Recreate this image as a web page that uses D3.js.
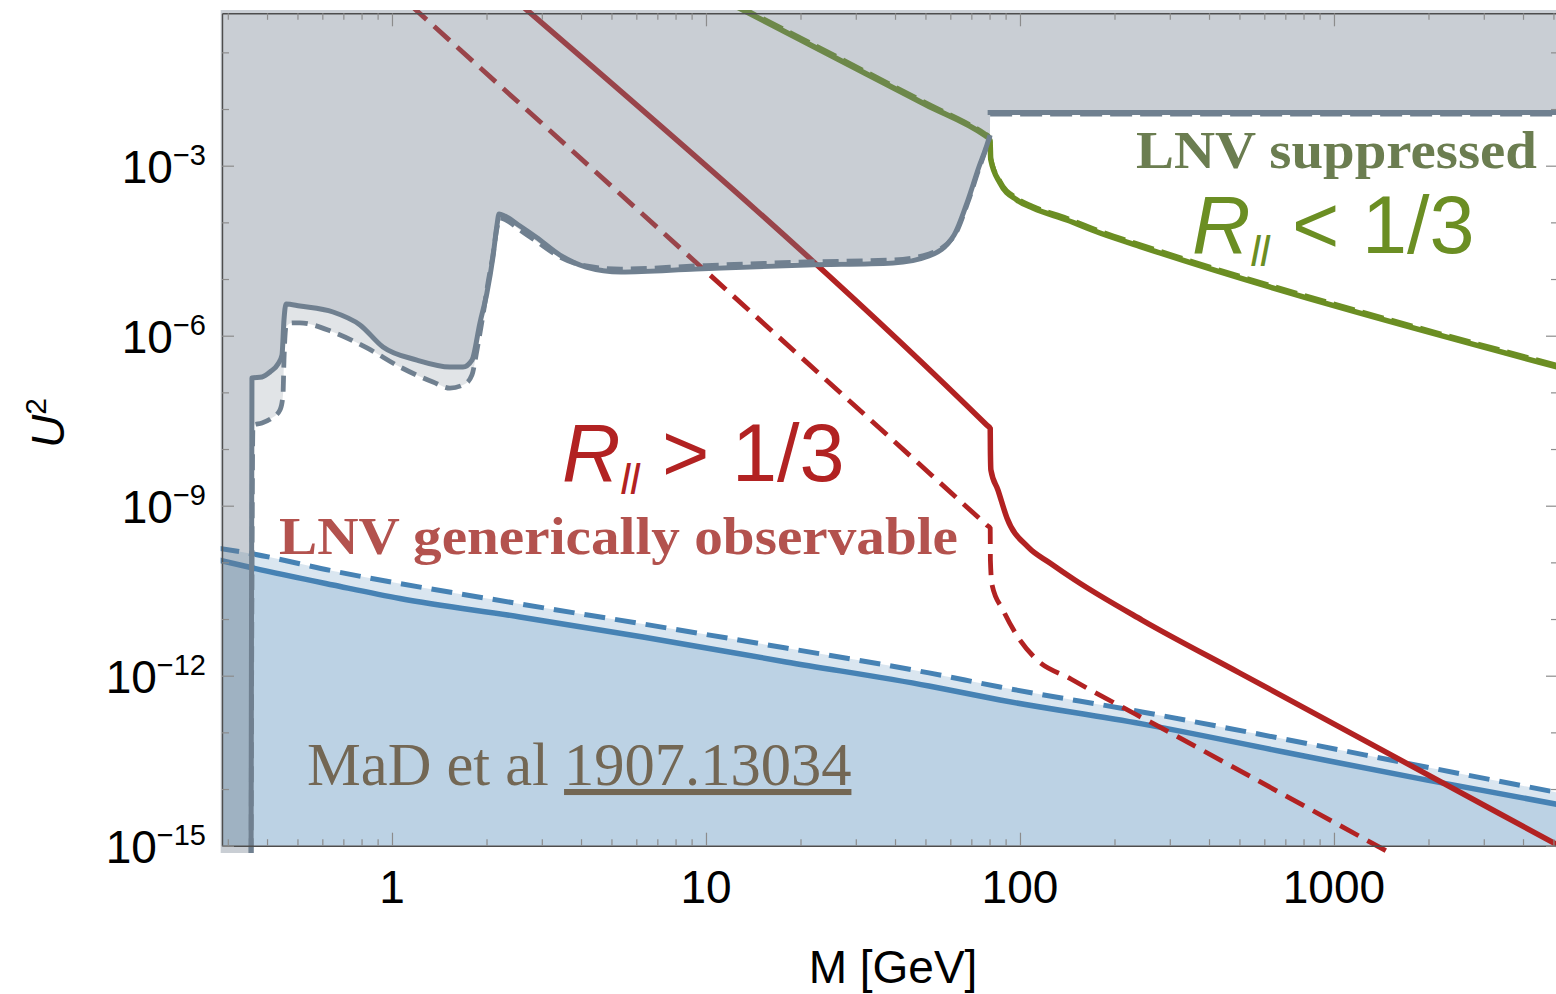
<!DOCTYPE html>
<html>
<head>
<meta charset="utf-8">
<script src="https://cdn.jsdelivr.net/npm/d3@7"></script>
<style>
  html, body { margin: 0; padding: 0; background: #ffffff; }
  svg { display: block; }
</style>
</head>
<body>
<svg id="chart" width="1556" height="994"></svg>
<script>
// ---------- data: heavy neutral lepton mass M [GeV] vs mixing U^2 ----------

// Excluded region, lower boundary (solid) and its dashed variant
const graySolidEdge = [
  [0.3556, 1e-16], [0.3581, 1.79e-7], [0.3855, 1.87e-7], [0.4088, 2.29e-7], [0.4335, 3.17e-7],
  [0.4464, 4.57e-7], [0.4529, 1.89e-6], [0.4596, 3.63e-6], [0.509, 3.34e-6], [0.649, 2.62e-6],
  [0.791, 1.55e-6], [0.936, 6.32e-7], [1.201, 3.72e-7], [1.530, 2.81e-7], [1.683, 2.81e-7],
  [1.798, 3.72e-7], [1.906, 1.68e-6], [2.006, 5.68e-6], [2.097, 2.45e-5], [2.16, 9.0e-5],
  [2.192, 1.41e-4], [2.29, 1.29e-4], [2.556, 8.63e-5], [2.874, 5.52e-5], [3.428, 2.65e-5],
  [4.148, 1.63e-5], [5.361, 1.33e-5], [9.29, 1.50e-5], [20.97, 1.77e-5], [39.4, 1.92e-5],
  [51.3, 2.55e-5], [61.7, 5.98e-5], [68.3, 2.48e-4], [74.0, 9.49e-4], [77.9, 2.05e-3],
  [80.3, 3.48e-3]
];
const graySolidTop = [[80.35, 8.69e-3], [5400, 8.69e-3]];

const grayDashedEdge = [
  [0.3556, 1e-16], [0.3608, 2.65e-8], [0.3855, 2.88e-8], [0.4148, 3.53e-8], [0.4398, 4.89e-8],
  [0.4497, 9.0e-8], [0.4529, 3.72e-7], [0.4596, 1.43e-6], [0.4804, 1.68e-6], [0.509, 1.68e-6],
  [0.649, 1.16e-6], [0.8324, 6.07e-7], [1.060, 2.81e-7], [1.351, 1.52e-7], [1.530, 1.19e-7],
  [1.708, 1.41e-7], [1.798, 2.03e-7], [1.865, 5.6e-7], [1.949, 2.32e-6], [2.022, 8.51e-6],
  [2.097, 2.65e-5], [2.16, 7.96e-5], [2.208, 1.19e-4], [2.307, 1.10e-4], [2.556, 7.33e-5],
  [2.874, 4.69e-5], [3.428, 2.45e-5], [4.148, 1.70e-5], [5.361, 1.50e-5], [9.29, 1.70e-5],
  [20.97, 2.0e-5], [39.4, 2.17e-5], [51.3, 2.77e-5], [61.7, 5.74e-5], [68.3, 2.29e-4],
  [74.0, 8.75e-4], [77.9, 1.97e-3], [80.3, 3.34e-3]
];
const grayDashedTop = [[80.35, 8.17e-3], [5400, 8.17e-3]];

// R_ll = 1/3 contours
const redSolid = [
  [2.6, 0.657], [78.5, 2.62e-8], [80.4, 2.3e-8], [80.5, 9.6e-9], [80.8, 4.27e-9], [85.1, 1.89e-9],
  [90.9, 6.07e-10], [106, 1.87e-10], [124.6, 9.75e-11], [149.6, 4.89e-11], [244.7, 9.6e-12],
  [500, 1.125e-12], [5200, 1.0e-15]
];
const redDashed = [
  [1.15, 0.67], [78.5, 4.51e-10], [80.4, 4.0e-10], [80.5, 1.1e-10], [81.5, 3.99e-11], [88.3, 1.44e-11],
  [98.5, 4.82e-12], [111.6, 2.06e-12], [145.3, 8.75e-13], [300, 9.94e-14], [1507, 7.45e-16]
];

const greenSolid = [
  [12.5, 0.64], [50, 1.2e-2], [77.5, 3.4e-3], [79.3, 3.1e-3], [80.3, 2.7e-3], [80.7, 1.3e-3],
  [86.4, 4.95e-4], [97.8, 2.48e-4], [110, 1.79e-4], [141, 1.10e-4], [179.8, 6.49e-5],
  [244.7, 3.67e-5], [5200, 2.75e-7]
];
const greenDashed = [
  [12.5, 0.69], [50, 1.3e-2], [77.5, 3.65e-3], [79.3, 3.35e-3], [80.3, 2.9e-3], [80.7, 1.4e-3],
  [86.4, 5.35e-4], [97.8, 2.68e-4], [110, 1.93e-4], [141, 1.19e-4], [179.8, 7.0e-5],
  [244.7, 3.96e-5], [5200, 2.97e-7]
];

// Seesaw band
const blueSolid = [
  [0.28, 1.1e-10], [0.3608, 7.96e-11], [0.649, 3.99e-11], [1.060, 2.3e-11], [2.556, 1.09e-11],
  [6.30, 4.82e-12], [17.98, 1.75e-12], [51.3, 6.59e-13], [86.4, 3.73e-13], [244.7, 1.41e-13],
  [693, 4.51e-14], [1963, 1.45e-14], [5200, 5.3e-15]
];
const blueDashed = [
  [0.28, 1.78e-10], [0.3608, 1.41e-10], [0.649, 7.05e-11], [2.556, 1.85e-11], [6.30, 8.18e-12],
  [17.98, 3.08e-12], [51.3, 1.12e-12], [86.4, 6.32e-13], [244.7, 2.29e-13], [693, 7.64e-14],
  [1963, 2.45e-14], [5200, 8.6e-15]
];

// Axis ticks and labels
const massMajor = [1, 10, 100, 1000];
const massLabels = ["1", "10", "100", "1000"];
const massMinor = [0.3, 0.4, 0.5, 0.6, 0.7, 0.8, 0.9, 2, 3, 4, 5, 6, 7, 8, 9,
  20, 30, 40, 50, 60, 70, 80, 90, 200, 300, 400, 500, 600, 700, 800, 900, 2000, 3000, 4000, 5000];
const u2Major = [1e-3, 1e-6, 1e-9, 1e-12, 1e-15];
const u2Exponents = ["\u22123", "\u22126", "\u22129", "\u221212", "\u221215"];
const u2Minor = [1e-1, 1e-2, 1e-4, 1e-5, 1e-7, 1e-8, 1e-10, 1e-11, 1e-13, 1e-14];

// ---------- layout ----------
const plot = { left: 222, right: 1558, top: 13.3, bottom: 845.7 };
const colors = { red: "#b22222", green: "#6b8e23", blue: "#4682b4", gray: "#708090" };
const sans = "'Liberation Sans', Arial, sans-serif";
const serif = "'Liberation Serif', 'Times New Roman', serif";

const x = d3.scaleLog().domain([0.2875, 5170]).range([plot.left, plot.right]);
const y = d3.scaleLog().domain([1e-15, 0.489]).range([plot.bottom, plot.top]);

const svg = d3.select("#chart");
const defs = svg.append("defs");
defs.append("clipPath").attr("id", "plot-clip").append("rect")
  .attr("x", plot.left).attr("y", plot.top)
  .attr("width", plot.right - plot.left).attr("height", plot.bottom - plot.top);
defs.append("clipPath").attr("id", "bleed-clip").append("rect")
  .attr("x", plot.left - 1.3).attr("y", plot.top - 3.3)
  .attr("width", plot.right - plot.left + 6).attr("height", plot.bottom - plot.top + 10.6);

const smooth = d3.line().x(d => x(d[0])).y(d => y(d[1])).curve(d3.curveMonotoneX);
const flat = d3.line().x(d => x(d[0])).y(d => y(d[1]));
const areaBelow = d3.area().x(d => x(d[0])).y0(plot.bottom + 20).y1(d => y(d[1])).curve(d3.curveMonotoneX);
const areaAbove = d3.area().x(d => x(d[0])).y0(plot.top - 20).y1(d => y(d[1])).curve(d3.curveMonotoneX);

// ---------- seesaw band (below) ----------
const gBlue = svg.append("g").attr("clip-path", "url(#plot-clip)");
[blueDashed, blueSolid].forEach(d => {
  gBlue.append("path").attr("d", areaBelow(d)).attr("fill", colors.blue).attr("fill-opacity", 0.2);
});
const gLines = svg.append("g").attr("clip-path", "url(#bleed-clip)");
gLines.append("path").attr("d", smooth(blueSolid)).attr("fill", "none")
  .attr("stroke", colors.blue).attr("stroke-width", 5.5);
gLines.append("path").attr("d", smooth(blueDashed)).attr("fill", "none")
  .attr("stroke", colors.blue).attr("stroke-width", 5).attr("stroke-dasharray", "21,10");

// ---------- R_ll contours ----------
gLines.append("path").attr("d", smooth(redSolid)).attr("fill", "none")
  .attr("stroke", colors.red).attr("stroke-width", 5.5);
gLines.append("path").attr("d", smooth(redDashed)).attr("fill", "none")
  .attr("stroke", colors.red).attr("stroke-width", 4.8).attr("stroke-dasharray", "21,10");
gLines.append("path").attr("d", smooth(greenSolid)).attr("fill", "none")
  .attr("stroke", colors.green).attr("stroke-width", 5.5);
gLines.append("path").attr("d", smooth(greenDashed)).attr("fill", "none")
  .attr("stroke", colors.green).attr("stroke-width", 4.5).attr("stroke-dasharray", "22,8");

// ---------- excluded region (drawn over the contours) ----------
const gGray = svg.append("g").attr("clip-path", "url(#bleed-clip)");
[[grayDashedEdge, grayDashedTop], [graySolidEdge, graySolidTop]].forEach(([edge, top]) => {
  const pts = [[x.domain()[0] * 0.7, edge[0][1]]].concat(edge, top);
  gGray.append("path").attr("d", areaAbove(pts)).attr("fill", colors.gray).attr("fill-opacity", 0.21);
});
gGray.append("path").attr("d", smooth(graySolidEdge)).attr("fill", "none")
  .attr("stroke", colors.gray).attr("stroke-width", 5).attr("stroke-linejoin", "round");
gGray.append("path").attr("d", flat(graySolidTop)).attr("fill", "none")
  .attr("stroke", colors.gray).attr("stroke-width", 5).attr("stroke-linecap", "square");
gGray.append("path").attr("d", smooth(grayDashedEdge)).attr("fill", "none")
  .attr("stroke", colors.gray).attr("stroke-width", 4.8).attr("stroke-dasharray", "16,8");
gGray.append("path").attr("d", flat(grayDashedTop)).attr("fill", "none")
  .attr("stroke", colors.gray).attr("stroke-width", 4.8).attr("stroke-dasharray", "22,8");

// ---------- frame and ticks ----------
const gAxes = svg.append("g");
function styleAxis(g, keepDomain) {
  g.selectAll(".tick line").attr("stroke", "#8c8c8c").attr("stroke-width", 1.2);
  g.selectAll(".tick text").remove();
  if (keepDomain) g.select(".domain").attr("stroke", "#4d4d4d").attr("stroke-width", 1.4);
  else g.select(".domain").remove();
}
[[d3.axisBottom(x), `translate(0,${plot.bottom})`], [d3.axisTop(x), `translate(0,${plot.top})`]].forEach(([ax, tr]) => {
  gAxes.append("g").attr("transform", tr)
    .call(ax.tickValues(massMajor).tickSizeInner(-13).tickSizeOuter(0).tickFormat(""))
    .call(g => styleAxis(g, true));
  gAxes.append("g").attr("transform", tr)
    .call(ax.tickValues(massMinor).tickSizeInner(-6.5).tickSizeOuter(0).tickFormat(""))
    .call(g => styleAxis(g, false));
});
[[d3.axisLeft(y), `translate(${plot.left},0)`], [d3.axisRight(y), `translate(${plot.right},0)`]].forEach(([ax, tr]) => {
  gAxes.append("g").attr("transform", tr)
    .call(ax.tickValues(u2Major).tickSizeInner(-12).tickSizeOuter(0).tickFormat(""))
    .call(g => styleAxis(g, true));
  gAxes.append("g").attr("transform", tr)
    .call(ax.tickValues(u2Minor).tickSizeInner(-7).tickSizeOuter(0).tickFormat(""))
    .call(g => styleAxis(g, false));
});

// tick labels
const gLab = svg.append("g").attr("font-family", sans).attr("fill", "#000");
massMajor.forEach((v, i) => {
  gLab.append("text").attr("x", x(v)).attr("y", 903).attr("text-anchor", "middle")
    .attr("font-size", 46).text(massLabels[i]);
});
u2Major.forEach((v, i) => {
  const t = gLab.append("text").attr("x", 206).attr("y", y(v) + 17.3)
    .attr("text-anchor", "end").attr("font-size", 46);
  t.append("tspan").text("10");
  t.append("tspan").attr("font-size", 29).attr("dy", -18).text(u2Exponents[i]);
});

// axis titles
gLab.append("text").attr("x", 893).attr("y", 983).attr("text-anchor", "middle")
  .attr("font-size", 46).text("M [GeV]");
const ut = gLab.append("text").attr("transform", "translate(64,423) rotate(-90)")
  .attr("text-anchor", "middle").attr("font-size", 46);
ut.append("tspan").attr("font-style", "italic").text("U");
ut.append("tspan").attr("font-size", 30).attr("dy", -18).text("2");

// ---------- annotations ----------
const gNote = svg.append("g");
gNote.append("text").attr("x", 1136).attr("y", 168)
  .attr("font-family", serif).attr("font-weight", "bold").attr("font-size", 52)
  .attr("fill", "#6b7d50").attr("textLength", 401).attr("lengthAdjust", "spacingAndGlyphs")
  .text("LNV suppressed");

gNote.append("text").attr("x", 279).attr("y", 554)
  .attr("font-family", serif).attr("font-weight", "bold").attr("font-size", 53)
  .attr("fill", "#b3524e").attr("textLength", 679).attr("lengthAdjust", "spacingAndGlyphs")
  .text("LNV generically observable");

const mad = gNote.append("text").attr("x", 307).attr("y", 785)
  .attr("font-family", serif).attr("font-size", 60.5).attr("fill", "#736754");
mad.append("tspan").text("MaD et al\u00a0");
mad.append("tspan").attr("text-decoration", "underline").text("1907.13034");

function ratioLabel(px, py, sign, color) {
  const t = gNote.append("text").attr("x", px).attr("y", py)
    .attr("font-family", sans).attr("font-size", 81).attr("fill", color);
  t.append("tspan").attr("font-style", "italic").text("R");
  t.append("tspan").attr("font-style", "italic").attr("font-size", 43).attr("dy", 13).text("ll");
  t.append("tspan").attr("dy", -13).text("\u00a0" + sign + "\u00a01/3");
}
ratioLabel(1192, 253, "<", colors.green);
ratioLabel(562, 481, ">", colors.red);
</script>
</body>
</html>
